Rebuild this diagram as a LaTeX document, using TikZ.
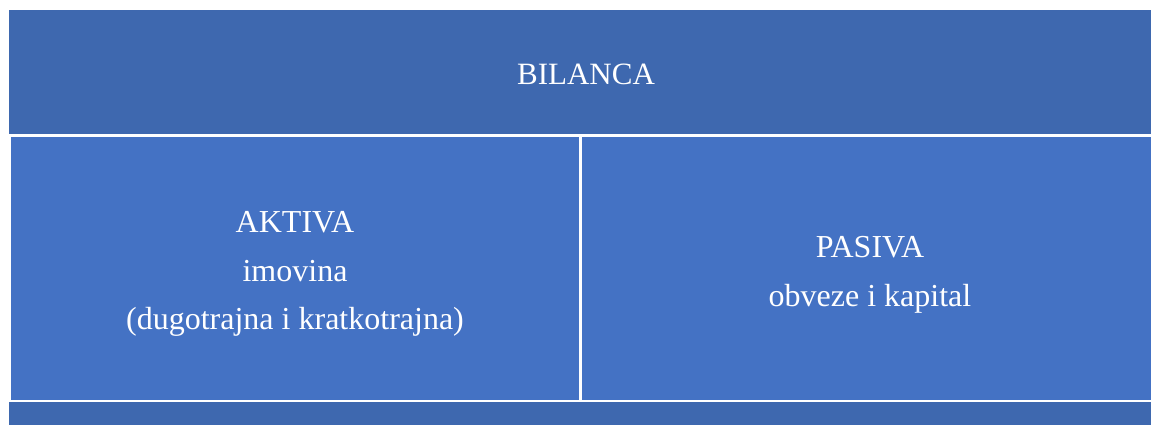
\documentclass[tikz,border=0pt]{standalone}
\usepackage{fontspec}
\setmainfont{Liberation Serif}
\usetikzlibrary{positioning}
\definecolor{bandblue}{RGB}{62,104,175}
\definecolor{cellblue}{RGB}{68,114,196}
\tikzset{
  Band/.style={fill=bandblue}, % dunkle Streifen
  Zelle/.style={fill=cellblue}, % helle Felder
  Text/.style={text=white, align=center, font=\fontsize{15.5}{24}\selectfont},
  ZText/.style={Text, font=\fontsize{16}{24.4}\selectfont}
}
\begin{document}
\begin{tikzpicture}[x=0.5pt, y=-0.5pt]
\useasboundingbox (0,0) rectangle (1151,425);

%Streifen
\fill[Band] (9,10) rectangle (1151,134);
\fill[Band] (9,402) rectangle (1151,425);

%Felder
\fill[Zelle] (11,137) rectangle (579,400);
\fill[Zelle] (582,137) rectangle (1151,400);

%Beschriftung
\node[Text] (bilanca) at (586,74) {BILANCA};
\node[ZText] (aktiva) at (295,274) {AKTIVA\\imovina\\(dugotrajna i kratkotrajna)};
\node[ZText] (pasiva) at (870,275) {PASIVA\\obveze i kapital};

\end{tikzpicture}
\end{document}
